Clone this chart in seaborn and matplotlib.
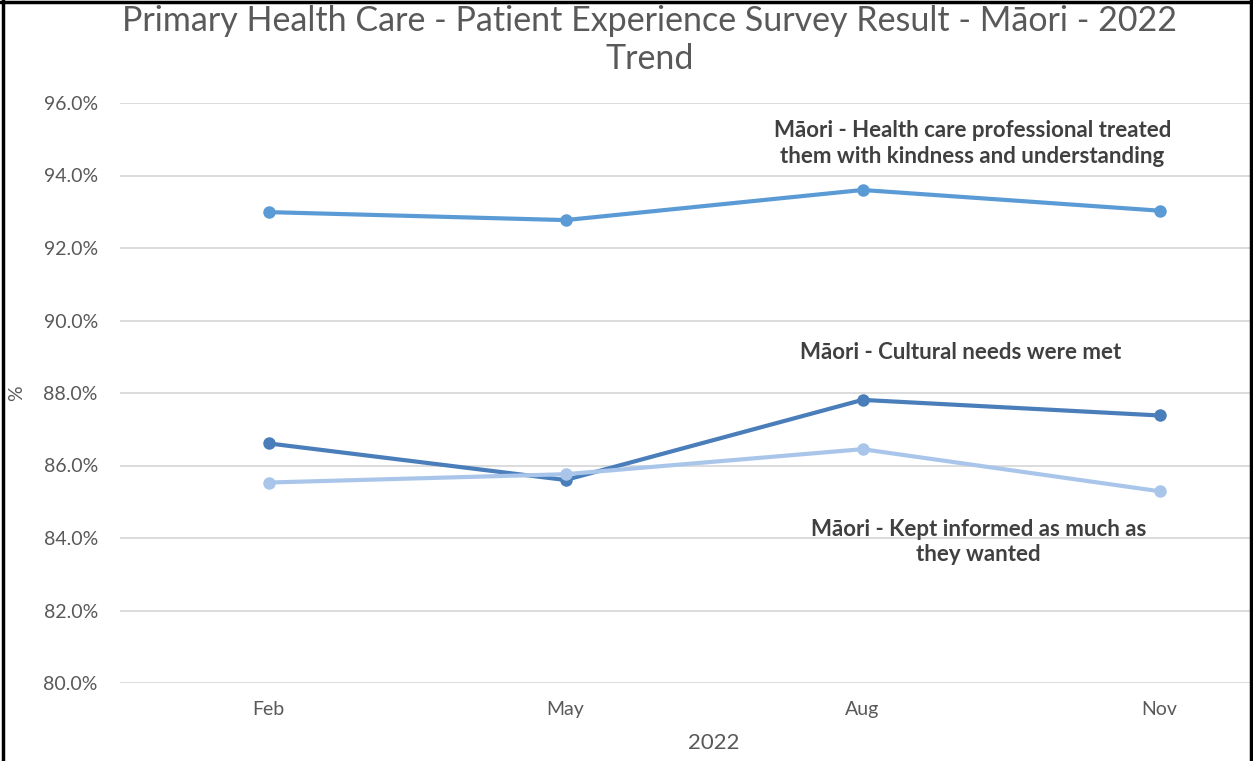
import pandas as pd
import matplotlib
matplotlib.use("Agg")
import matplotlib.pyplot as plt
import seaborn as sns
from matplotlib.lines import Line2D

# datos
meses = ["Feb", "May", "Aug", "Nov"]
amabilidad = [92.99, 92.77, 93.60, 93.03]
cultural = [86.61, 85.60, 87.81, 87.38]
informado = [85.53, 85.76, 86.45, 85.29]

series = [
    "Māori - Health care professional treated\nthem with kindness and understanding",
    "Māori - Cultural needs were met",
    "Māori - Kept informed as much as\nthey wanted",
]
colores = ["#5B9BD5", "#4A7EBA", "#A9C6EA"]

df = pd.DataFrame({
    "mes": meses * 3,
    "valor": amabilidad + cultural + informado,
    "serie": [series[0]] * 4 + [series[1]] * 4 + [series[2]] * 4,
})

sns.set_theme(style="white")
plt.rcParams["font.family"] = ["Lato", "DejaVu Sans"]

fig = plt.figure(figsize=(12.53, 7.61), dpi=100)
ax = fig.add_axes([120 / 1253, 1 - 683 / 761, (1308 - 120) / 1253, (683 - 103) / 761])

sns.lineplot(data=df, x="mes", y="valor", hue="serie", palette=colores,
             hue_order=series, sort=False, marker="o", markersize=9,
             markeredgewidth=0, linewidth=3, ax=ax, legend=False)

ax.set_ylim(80, 96)
ax.set_xlim(-0.5, 3.5)
ax.set_yticks(range(80, 97, 2))
ax.set_yticklabels([f"{v:.1f}%" for v in range(80, 97, 2)])
ax.grid(axis="y", color="#D9D9D9", linewidth=1.3)
ax.set_axisbelow(True)
for s in ax.spines.values():
    s.set_visible(False)
ax.tick_params(axis="both", colors="#595959", labelsize=14, length=0)
ax.tick_params(axis="y", pad=16)
ax.tick_params(axis="x", pad=13)
ax.set_xlabel("2022", fontsize=16, color="#595959", labelpad=11)
ax.set_ylabel("%", fontsize=14, color="#595959")
ax.yaxis.set_label_coords(-0.08, 0.5)

# etiquetas de cada serie
estilo = dict(ha="center", va="center", fontsize=16, fontweight="bold",
              color="#404040", linespacing=1.25)
ax.text(2.37, 94.88, series[0], **estilo)
ax.text(2.33, 89.13, series[1], **estilo)
ax.text(2.39, 83.88, series[2], **estilo)

fig.text(650 / 1253, 1 - 40 / 761,
         "Primary Health Care - Patient Experience Survey Result - Māori - 2022\nTrend",
         ha="center", va="center", fontsize=24.5, color="#595959", linespacing=1.22)

# marco negro
for xs, ys in [([0.002, 0.002], [0, 1]), ([0.9985, 0.9985], [0, 1]), ([0, 1], [0.998, 0.998])]:
    fig.add_artist(Line2D(xs, ys, transform=fig.transFigure, color="black", linewidth=2.5))

plt.savefig("out.png", dpi=100)
plt.close()
